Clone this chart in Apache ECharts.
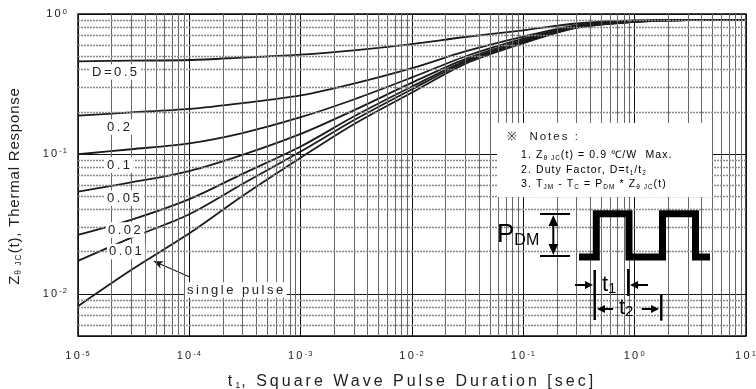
<!DOCTYPE html>
<html>
<head>
<meta charset="utf-8">
<script src="https://cdn.jsdelivr.net/npm/echarts@6/dist/echarts.min.js"></script>
<style>
  html, body { margin: 0; padding: 0; background: #fff; }
  #chart { width: 756px; height: 389px; }
</style>
</head>
<body>
<div id="chart"></div>
<script>
// The source figure uses widely tracked type; fonts tagged "spNN" get NN/10 px letter spacing.
const fontDesc = Object.getOwnPropertyDescriptor(CanvasRenderingContext2D.prototype, "font");
Object.defineProperty(CanvasRenderingContext2D.prototype, "font", {
  get() { return fontDesc.get.call(this); },
  set(value) {
    fontDesc.set.call(this, value);
    const m = /sp(\d+)/.exec(value);
    if ("letterSpacing" in this) this.letterSpacing = m ? m[1] / 10 + "px" : "0px";
  },
});

const spaced = (n) => `'Liberation Sans', sp${n}, sans-serif`;
const PLAIN = "'Liberation Sans', sans-serif";

// pulse duration t1 [sec]
const T = [1e-5, 3e-5, 1e-4, 3e-4, 1e-3, 3e-3, 1e-2, 3e-2, 0.1, 0.3, 1, 3, 10];

// normalized thermal response Z(t)
const D_05 = [0.459, 0.464, 0.469, 0.488, 0.512, 0.55, 0.61, 0.685, 0.765, 0.855, 0.9, 0.905, 0.905];
const D_02 = [0.188, 0.198, 0.21, 0.231, 0.262, 0.318, 0.41, 0.54, 0.69, 0.83, 0.895, 0.905, 0.905];
const D_01 = [0.0995, 0.108, 0.119, 0.141, 0.183, 0.245, 0.352, 0.497, 0.666, 0.82, 0.89, 0.905, 0.905];
const D_005 = [0.0538, 0.0626, 0.0755, 0.0984, 0.139, 0.205, 0.323, 0.476, 0.652, 0.81, 0.885, 0.905, 0.905];
const D_002 = [0.0264, 0.0338, 0.0475, 0.072, 0.113, 0.185, 0.303, 0.463, 0.638, 0.805, 0.882, 0.905, 0.905];
const D_001 = [0.0172, 0.0251, 0.0371, 0.061, 0.104, 0.174, 0.29, 0.452, 0.628, 0.8, 0.88, 0.905, 0.905];
const SINGLE = [0.00817, 0.0148, 0.0271, 0.0501, 0.094, 0.163, 0.275, 0.44, 0.618, 0.795, 0.878, 0.905, 0.905];

const CURVES = [
  { name: "D=0.5", values: D_05 },
  { name: "0.2", values: D_02 },
  { name: "0.1", values: D_01 },
  { name: "0.05", values: D_005 },
  { name: "0.02", values: D_002 },
  { name: "0.01", values: D_001 },
  { name: "single pulse", values: SINGLE },
];

// arrow pointing at the single pulse curve
const ARROW_FROM = [1.01e-4, 0.0132];
const ARROW_TO = [4.8e-5, 0.0171];

// minor grid positions (2..9 within each decade)
const X_DECADES = [1e-5, 1e-4, 1e-3, 1e-2, 1e-1, 1];
const Y_DECADES = [1e-3, 1e-2, 1e-1];
const MULTIPLIERS = [2, 3, 4, 5, 6, 7, 8, 9];

const X_MIN = 1e-5, X_MAX = 10;
const Y_MIN = 0.005, Y_MAX = 1;

const xMinor = [];
X_DECADES.forEach((d) => MULTIPLIERS.forEach((m) => xMinor.push(d * m)));
const yMinor = [];
Y_DECADES.forEach((d) => MULTIPLIERS.forEach((m) => {
  const v = d * m;
  if (v > Y_MIN * 1.0001 && v < Y_MAX) yMinor.push(v);
}));

function powerLabel(value) {
  const e = Math.log10(value);
  if (Math.abs(e - Math.round(e)) > 1e-6) return "";
  return `{b|10}{e|${Math.round(e)}}`;
}

const tickRich = {
  b: { fontSize: 11, fontFamily: spaced(22), color: "#222", lineHeight: 14 },
  e: { fontSize: 7.5, fontFamily: spaced(10), color: "#222", verticalAlign: "top", lineHeight: 8 },
};

const chart = echarts.init(document.getElementById("chart"), null, { renderer: "canvas" });

const series = CURVES.map((c, i) => ({
  name: c.name,
  type: "line",
  data: T.map((t, k) => [t, c.values[k]]),
  showSymbol: false,
  smooth: 0.3,
  silent: true,
  z: 3,
  lineStyle: { color: "#1a1a1a", width: 1.8 },
  markLine: i === CURVES.length - 1 ? {
    silent: true,
    precision: 10,
    symbol: ["none", "arrow"],
    symbolSize: [6, 9],
    label: { show: false },
    lineStyle: { color: "#1a1a1a", width: 1.2, type: "solid" },
    data: [[{ coord: ARROW_FROM }, { coord: ARROW_TO }]],
  } : undefined,
}));

// minor grid lines
series.push({
  name: "grid",
  type: "line",
  data: [],
  silent: true,
  z: 1,
  markLine: {
    silent: true,
    precision: 10,
    symbol: "none",
    label: { show: false },
    animation: false,
    data: [
      ...xMinor.map((v) => ({ xAxis: v, lineStyle: { color: "#666", width: 1, type: "solid" } })),
      ...yMinor.map((v) => ({ yAxis: v, lineStyle: { color: "#888", width: 1.3, type: [2, 1] } })),
    ],
  },
});

const labelStyle = (text, x, y) => ({
  type: "text",
  x, y, z: 100,
  style: {
    text,
    font: `13px ${spaced(25)}`,
    fill: "#222",
    backgroundColor: "#fff",
    padding: [0, 1, 0, 2],
    textVerticalAlign: "middle",
  },
});

const notesRich = {
  n: { fontSize: 10.5, fontFamily: spaced(11), color: "#222", lineHeight: 14 },
  s: { fontSize: 6.5, fontFamily: spaced(10), color: "#222", verticalAlign: "bottom", lineHeight: 7 },
};

const line = (x1, y1, x2, y2, w) => ({
  type: "line", z: 100,
  shape: { x1, y1, x2, y2 },
  style: { stroke: "#000", lineWidth: w },
});
const tri = (points) => ({ type: "polygon", z: 100, shape: { points }, style: { fill: "#000" } });

chart.setOption({
  backgroundColor: "#fff",
  animation: false,
  grid: {
    left: 78, right: 10, top: 14, bottom: 53,
    containLabel: false,
    outerBoundsMode: "none",
    show: true, borderColor: "#111", borderWidth: 1.5, backgroundColor: "transparent",
  },
  xAxis: {
    type: "log",
    logBase: 10,
    min: X_MIN,
    max: X_MAX,
    name: "{n|t}{s|1}{n|, Square Wave Pulse Duration [sec]}",
    nameLocation: "middle",
    nameGap: 37,
    nameTextStyle: {
      rich: {
        n: { fontSize: 16, fontFamily: spaced(30), color: "#222", lineHeight: 18 },
        s: { fontSize: 9, fontFamily: spaced(10), color: "#222", verticalAlign: "bottom", lineHeight: 9 },
      },
    },
    axisLine: { show: false },
    axisTick: { show: false },
    axisLabel: { margin: 13, formatter: powerLabel, rich: tickRich, showMaxLabel: true },
    splitLine: { show: true, lineStyle: { color: "#111", width: 1 } },
  },
  yAxis: {
    type: "log",
    logBase: 10,
    min: Y_MIN,
    max: Y_MAX,
    name: "{n|Z}{s|θ JC}{n|(t), Thermal Response}",
    nameLocation: "middle",
    nameGap: 54,
    nameRotate: 90,
    nameTextStyle: {
      padding: [0, 22, 0, 0],
      rich: {
        n: { fontSize: 15, fontFamily: spaced(8), color: "#222", lineHeight: 18 },
        s: { fontSize: 8.5, fontFamily: spaced(10), color: "#222", verticalAlign: "bottom", lineHeight: 8 },
      },
    },
    axisLine: { show: false },
    axisTick: { show: false },
    axisLabel: { margin: 10, formatter: powerLabel, rich: tickRich, showMinLabel: false },
    splitLine: { show: true, lineStyle: { color: "#111", width: 1 } },
  },
  series,
  graphic: [
    // curve labels
    labelStyle("D=0.5", 90, 72),
    labelStyle("0.2", 105, 127),
    labelStyle("0.1", 105, 165),
    labelStyle("0.05", 105, 198),
    labelStyle("0.02", 106, 230),
    labelStyle("0.01", 107, 251.5),
    labelStyle("single pulse", 185, 290),

    // notes box
    { type: "rect", z: 90, shape: { x: 497, y: 123, width: 215, height: 74 }, style: { fill: "#fff" } },
    {
      type: "text", x: 507, y: 137, z: 100,
      style: { text: "※  Notes :", font: `11.5px ${spaced(20)}`, fill: "#222", textVerticalAlign: "middle" },
    },
    {
      type: "text", x: 521, y: 155, z: 100,
      style: { text: "{n|1. Z}{s|θ JC}{n|(t) = 0.9 ℃/W  Max.}", rich: notesRich, textVerticalAlign: "middle" },
    },
    {
      type: "text", x: 521, y: 170, z: 100,
      style: { text: "{n|2. Duty Factor, D=t}{s|1}{n|/t}{s|2}", rich: notesRich, textVerticalAlign: "middle" },
    },
    {
      type: "text", x: 521, y: 184.5, z: 100,
      style: {
        text: "{n|3. T}{s|JM}{n| - T}{s|C}{n| = P}{s|DM}{n| * Z}{s|θ JC}{n|(t)}",
        rich: notesRich, textVerticalAlign: "middle",
      },
    },

    // pulse diagram
    {
      type: "text", x: 497, y: 235, z: 100,
      style: {
        text: "{p|P}{d|DM}",
        rich: {
          p: { fontSize: 26, fontFamily: PLAIN, color: "#222", lineHeight: 28 },
          d: { fontSize: 16, fontFamily: PLAIN, color: "#222", verticalAlign: "bottom", lineHeight: 14 },
        },
        textVerticalAlign: "middle",
      },
    },
    line(540, 214, 570, 214, 2),
    line(540, 256, 570, 256, 2),
    line(553.3, 222, 553.3, 248, 2),
    tri([[553.3, 215], [548.5, 226], [558.1, 226]]),
    tri([[553.3, 255], [548.5, 244], [558.1, 244]]),
    {
      type: "polyline", z: 100,
      shape: {
        points: [[579, 257], [596.3, 257], [596.3, 213.7], [629, 213.7], [629, 257],
          [662.5, 257], [662.5, 213.7], [695.5, 213.7], [695.5, 257], [710, 257]],
      },
      style: { stroke: "#000", lineWidth: 7, fill: null, lineJoin: "miter" },
    },
    line(594.7, 270, 594.7, 320, 2.5),
    line(628.3, 269, 628.3, 296, 2.5),
    line(661.3, 295, 661.3, 320.7, 2.5),
    line(575, 285, 587, 285, 2),
    tri([[593, 285], [585, 281], [585, 289]]),
    line(648, 285, 636, 285, 2),
    tri([[630, 285], [638, 281], [638, 289]]),
    line(613, 309, 603, 309, 2),
    tri([[597, 309], [605, 305], [605, 313]]),
    line(641.7, 309, 652, 309, 2),
    tri([[659, 309], [651, 305], [651, 313]]),
    {
      type: "text", x: 602, y: 285, z: 100,
      style: {
        text: "{t|t}{s|1}",
        rich: {
          t: { fontSize: 22, fontFamily: PLAIN, color: "#222", lineHeight: 22 },
          s: { fontSize: 15, fontFamily: PLAIN, color: "#222", verticalAlign: "bottom", lineHeight: 12 },
        },
        textVerticalAlign: "middle",
      },
    },
    {
      type: "text", x: 619, y: 308, z: 100,
      style: {
        text: "{t|t}{s|2}",
        rich: {
          t: { fontSize: 22, fontFamily: PLAIN, color: "#222", lineHeight: 22 },
          s: { fontSize: 15, fontFamily: PLAIN, color: "#222", verticalAlign: "bottom", lineHeight: 12 },
        },
        textVerticalAlign: "middle",
      },
    },
  ],
});
</script>
</body>
</html>
